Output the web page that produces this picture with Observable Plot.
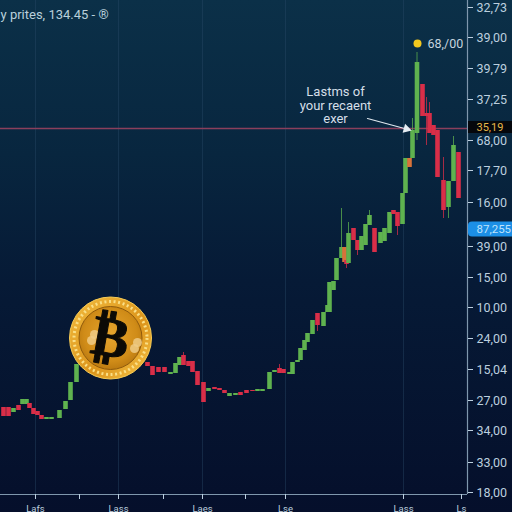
<!DOCTYPE html>
<html>
<head>
<meta charset="utf-8">
<script src="https://cdn.jsdelivr.net/npm/d3@7"></script>
<script src="https://cdn.jsdelivr.net/npm/@observablehq/plot@0.6"></script>
<style>html,body{margin:0;padding:0;background:#05122b}svg{display:block}</style>
</head>
<body>
<div id="chart"></div>
<script>
const candleDay = [3,8,13,18,22,26,29,33,37,41,46,51,59,65,70,76,
  147,152,158,164,170,175,179,183,188,192,197,203,208,214,219,224,229,235,240,246,252,257,262,
  269,274,279,283,289,292,297,300,304,307,312,317,323,327,329,333,336,341,344,346,348,353,357,361,365,369,374,380,384,389,393,397,
  402,405,409,412,416.5,422,426,429,433,437,443,448,453,458];
const candleOpen = [105,105,100,107,108,108,109,104,101,97,93,93,94,103,112,130,
  150,146,145,145,138,139,147,157,151,151,141,130,121,125,124,122,116,117,120,122,122,121,121,
  123,140,144,143,138,138,150,152,162,170,178,199,186,200,200,222,232,254,265,252,249,284,272,262,267,287,284,269,271,279,302,300,
  288,319,354,354,379,428,399,399,387,382,332,305,331,360];
const candleClose = [96,96,104,102,113,113,104,98,97,93,95,95,102,111,130,148,
  146,137,140,140,140,149,155,147,146,140,127,110,124,123,122,119,119,119,117,119,121,123,123,
  140,142,139,139,140,150,152,164,172,179,192,187,200,207,230,231,254,265,250,248,279,272,262,276,288,297,260,280,284,300,298,286,
  319,354,345,382,450,396,396,379,377,335,302,331,367,314];
const candleHigh = [105,105,104,107,113,113,109,104,101,97,95,95,102,111,130,148,
  150,146,145,145,140,149,155,160,151,151,141,130,124,125,124,122,119,119,120,122,122,123,123,
  140,142,148,143,140,150,152,164,172,179,192,199,200,207,230,231,254,304,265,252,290,284,272,276,288,302,284,280,284,300,302,300,
  319,354,354,394,460,428,415,410,387,382,355,331,376,360];
const candleLow = [96,96,100,102,108,108,104,98,97,93,93,93,94,103,112,130,
  146,137,140,140,138,139,147,147,146,140,127,110,121,123,122,119,116,117,117,119,121,121,121,
  123,140,139,139,138,138,150,152,162,170,178,181,186,200,200,222,232,254,250,244,249,272,257,262,267,287,260,269,271,279,298,277,
  288,319,345,354,372,396,367,379,377,335,294,294,331,314];
const orangeDays = [344,409];

const yTickValues = [505,475,444,413,372,342,310,266,235,205,174,143,112,82,50,20];
const yTickLabels = ["32,73","39,00","39,79","37,25","68,00","17,70","16,00","39,00","15,00","10,00","24,00","15,04","27,00","34,00","33,00","18,00"];
const xTickValues = [35,79,118,163,202,245,285,403,461];
const xLabelDays = [35,118,202,285,403,461];
const xLabelTexts = ["Lafs","Lass","Laes","Lse","Lass","Ls"];
const gridDays = [35,118,202,285,403];
const lastLevel = 384;
const coin = {day:110, price:174.5};
const coinGlints = [{day:91, price:172},{day:94, price:178},{day:137, price:170},{day:134, price:164}];
const peak = {day:417, price:469, label:"68,/00"};
const noteLines = ["Lastms of","your recaent","exer"];
const notePrices = [421,407,394];
const titleText = "y prites, 134.45 - ®";
const tagBlack = {price:385, label:"35,19"};
const tagBlue = {price:283, label:"87,255"};

const candles = candleDay.map((day,i)=>({day,open:candleOpen[i],close:candleClose[i],high:candleHigh[i],low:candleLow[i]}));
const up = "#5fb24f", down = "#d92e48", amber = "#d8733a";
const col = d => orangeDays.includes(d.day) ? amber : d.close >= d.open ? up : down;
const textCol = "#bccfdf";
const fontFam = "Roboto, 'Liberation Sans', sans-serif";

const defs = () => {
  const s = d3.create("svg:defs");
  const g = s.append("radialGradient").attr("id","coinFace").attr("cx","50%").attr("cy","45%").attr("r","60%");
  g.append("stop").attr("offset","0%").attr("stop-color","#e8a62e");
  g.append("stop").attr("offset","70%").attr("stop-color","#d08c18");
  g.append("stop").attr("offset","100%").attr("stop-color","#b4740e");
  const h = s.append("linearGradient").attr("id","coinRim").attr("x1","0").attr("y1","0").attr("x2","1").attr("y2","1");
  h.append("stop").attr("offset","0%").attr("stop-color","#f2bb3e");
  h.append("stop").attr("offset","60%").attr("stop-color","#dc951c");
  h.append("stop").attr("offset","100%").attr("stop-color","#f7c547");
  return s.node();
};

const plot = Plot.plot({
  width:512, height:512, marginLeft:0, marginRight:45, marginTop:0, marginBottom:18,
  x:{type:"linear", domain:[0,467], axis:null},
  y:{type:"linear", domain:[18,512], axis:null},
  style:{background:"linear-gradient(180deg,#0b3048 0%,#08263f 30%,#061a36 55%,#050f2b 100%)", fontFamily:fontFam},
  marks:[
    defs,
    Plot.ruleX(gridDays,{x:d=>d, stroke:"#2a4a68", strokeOpacity:0.4, strokeWidth:1}),
    Plot.ruleY([lastLevel],{y:d=>d, x1:0, x2:467, stroke:"#8a3f5c", strokeWidth:1.3}),
    Plot.ruleX(candles,{x:"day", y1:"low", y2:"high", stroke:col, strokeWidth:1, strokeOpacity:0.75}),
    Plot.ruleX(candles,{x:"day", y1:"open", y2:"close", stroke:col, strokeWidth:4.6}),
    // axes
    Plot.ruleX([467],{x:d=>d, y1:18, y2:512, stroke:"#7f97ad", strokeWidth:1.2}),
    Plot.ruleY([18],{y:d=>d, x1:0, x2:467, stroke:"#7f97ad", strokeWidth:1.2}),
    Plot.axisY({anchor:"right", ticks:yTickValues, tickSize:5, tickPadding:4, label:null, color:textCol, fontSize:12.5,
      tickFormat:d=>yTickLabels[yTickValues.indexOf(d)]}),
    Plot.axisX({anchor:"bottom", ticks:xTickValues, tickSize:5, tickPadding:0, label:null, color:textCol,
      tickFormat:()=>""}),
    Plot.text(xLabelTexts,{x:(d,i)=>xLabelDays[i], y:18, text:d=>d, dy:14, fill:textCol, fontSize:9.5, fontFamily:fontFam}),
    // coin
    Plot.dot([coin],{x:"day", y:"price", r:41, fill:"url(#coinRim)", stroke:"#f7cc55", strokeWidth:1}),
    Plot.dot([coin],{x:"day", y:"price", r:36.5, fill:"none", stroke:"#fadf86", strokeWidth:3, strokeDasharray:"2 2.6"}),
    Plot.dot([coin],{x:"day", y:"price", r:31.5, fill:"url(#coinFace)", stroke:"#8f5a0c", strokeWidth:1}),
    Plot.dot(coinGlints,{x:"day", y:"price", r:4.5, fill:"#eecb86", fillOpacity:0.85}),
    Plot.text([coin],{x:"day", y:"price", text:()=>"₿", fontSize:56, fontWeight:"bold", fill:"#0c0a06", stroke:"#0c0a06", strokeWidth:1, rotate:10, fontFamily:"'DejaVu Sans'"}),
    // annotations
    Plot.text(noteLines,{x:335, y:(d,i)=>notePrices[i], text:d=>d, fill:"#d5dfe8", fontSize:13, fontFamily:fontFam}),
    Plot.arrow([0],{x1:367, y1:394, x2:404, y2:384, stroke:"#dfe8ef", strokeWidth:1.2, headLength:0, bend:false}),
    Plot.dot([{day:406, price:383.5}],{x:"day", y:"price", symbol:"triangle", r:3.5, rotate:105, fill:"#e6edf3"}),
    Plot.dot([peak],{x:"day", y:"price", r:4, fill:"#f4c81e"}),
    Plot.text([peak],{x:"day", y:"price", text:"label", dx:10, textAnchor:"start", fill:"#c6d4df", fontSize:12.5, fontFamily:fontFam}),
    Plot.text([titleText],{x:0, y:498, text:d=>d, textAnchor:"start", fill:"#b9cfdb", fontSize:13, fontFamily:fontFam}),
    // price tags
    Plot.rect([tagBlack],{x1:468, x2:512, y1:d=>d.price-6, y2:d=>d.price+6, fill:"#05070c"}),
    Plot.text([tagBlack],{x:476, y:"price", text:"label", textAnchor:"start", fill:"#e6b84a", fontSize:11, fontFamily:fontFam}),
    Plot.rect([tagBlue],{x1:468, x2:520, y1:d=>d.price-7.5, y2:d=>d.price+7.5, fill:"#1c8fe6", rx:4}),
    Plot.text([tagBlue],{x:476, y:"price", text:"label", textAnchor:"start", fill:"#bfe3fb", fontSize:11.5, fontFamily:fontFam})
  ]
});
document.getElementById("chart").append(plot);
</script>
</body>
</html>
